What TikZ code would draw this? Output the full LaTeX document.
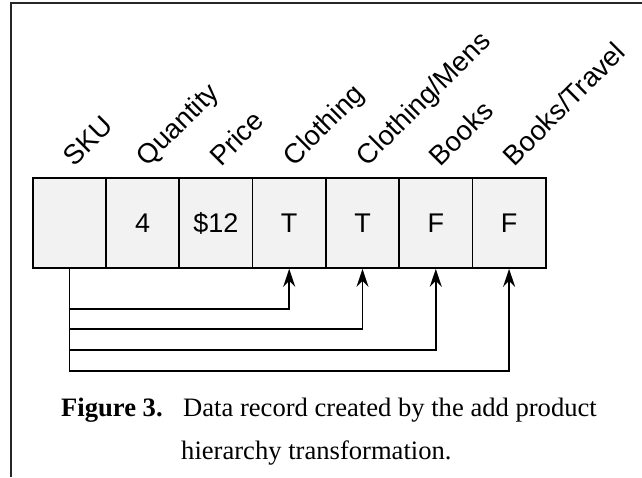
\documentclass[tikz,border=0pt]{standalone}
\usepackage{fontspec}
\setmainfont{Liberation Serif}
\setsansfont{Liberation Sans}
\usetikzlibrary{arrows.meta}
\begin{document}
\begin{tikzpicture}[x=1pt,y=1pt,
  cell/.style={draw=black, line width=1.7pt, fill=black!5,
    minimum width=73.3pt, minimum height=90pt, inner sep=0pt,
    font=\sffamily\fontsize{27}{30}\selectfont},
  head/.style={rotate=45, anchor=base west, inner sep=0pt,
    font=\sffamily\fontsize{27.5}{32}\selectfont},
  link/.style={line width=1.6pt, -{Stealth[length=18pt,width=12pt,inset=6pt]}},
  captext/.style={anchor=base west, inner sep=0pt,
    font=\fontsize{26.6}{32}\selectfont},
]
\useasboundingbox (0,0) rectangle (642,477);
% outer frame (top and left edges)
\draw[line width=2pt, black!85] (11,0) -- (11,474) -- (645,474);

% record cells
\node[cell] (sku)   at (69.3,254) {};
\node[cell] (qty)   at (142.6,254) {4};
\node[cell] (price) at (215.9,254) {\$12};
\node[cell] (cl)    at (289.2,254) {T};
\node[cell] (clm)   at (362.5,254) {T};
\node[cell] (bk)    at (435.8,254) {F};
\node[cell] (bkt)   at (509.1,254) {F};

% column headings
\node[head] (hsku)   at ([xshift=5pt,yshift=10pt]sku.north)   {SKU};
\node[head] (hqty)   at ([xshift=5pt,yshift=10pt]qty.north)   {Quantity};
\node[head] (hprice) at ([xshift=5pt,yshift=10pt]price.north) {Price};
\node[head] (hcl)    at ([xshift=5pt,yshift=10pt]cl.north)    {Clothing};
\node[head] (hclm)   at ([xshift=5pt,yshift=10pt]clm.north)   {Clothing/Mens};
\node[head] (hbk)    at ([xshift=5pt,yshift=10pt]bk.north)    {Books};
\node[head] (hbkt)   at ([xshift=5pt,yshift=10pt]bkt.north)   {Books/Travel};

% SKU links to the hierarchy flags
\draw[link] (sku.south) -- ([yshift=-40pt]sku.south) -| (cl.south);
\draw[link] (sku.south) -- ([yshift=-60pt]sku.south) -| (clm.south);
\draw[link] (sku.south) -- ([yshift=-81pt]sku.south) -| (bk.south);
\draw[link] (sku.south) -- ([yshift=-102pt]sku.south) -| (bkt.south);

% caption
\node[captext] (fig)  at (61,61)  {\bfseries Figure 3.};
\node[captext] (cap1) at (183,61) {Data record created by the add product};
\node[captext] (cap2) at (181,18) {hierarchy transformation.};
\end{tikzpicture}
\end{document}
